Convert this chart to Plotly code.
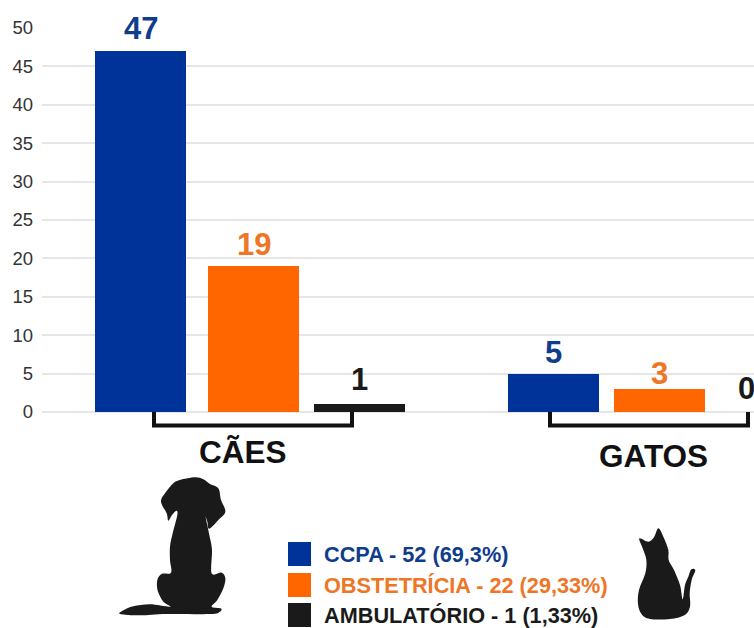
import plotly.graph_objects as go

W, H = 754, 628
FONT = "Liberation Sans"

# Chart values
species = ["CÃES", "GATOS"]
ccpa = [47, 5]
obstetricia = [19, 3]
ambulatorio = [1, 0]
y_ticks = [0, 5, 10, 15, 20, 25, 30, 35, 40, 45, 50]
legend_labels = ["CCPA - 52 (69,3%)", "OBSTETRÍCIA - 22 (29,33%)", "AMBULATÓRIO - 1 (1,33%)"]

BLUE, ORANGE, BLACK = "#003399", "#ff6600", "#1a1a1a"
TEXT_BLUE, TEXT_ORANGE = "#103c8c", "#ee7626"

# Horizontal bar slots, one list per service, in axis units (screen pixels)
x_ccpa = [140.5, 553.5]
x_obst = [253.5, 659.5]
x_amb = [359.5, 746]
BAR_W = 91


def px(x):
    return x / W


def py(y):
    return 1 - y / H


def smooth_path(points):
    """Closed Catmull-Rom outline through pixel points, as an SVG path in paper units."""
    n = len(points)
    d = f"M{px(points[0][0]):.5f},{py(points[0][1]):.5f}"
    for i in range(n):
        p0, p1, p2, p3 = points[i - 1], points[i], points[(i + 1) % n], points[(i + 2) % n]
        c1 = (p1[0] + (p2[0] - p0[0]) / 6, p1[1] + (p2[1] - p0[1]) / 6)
        c2 = (p2[0] - (p3[0] - p1[0]) / 6, p2[1] - (p3[1] - p1[1]) / 6)
        d += (f" C{px(c1[0]):.5f},{py(c1[1]):.5f} {px(c2[0]):.5f},{py(c2[1]):.5f}"
              f" {px(p2[0]):.5f},{py(p2[1]):.5f}")
    return d + " Z"


def bracket(x0, x1, top=412, bottom=425.5):
    return (f"M{px(x0)},{py(top)} L{px(x0)},{py(bottom)} "
            f"L{px(x1)},{py(bottom)} L{px(x1)},{py(top)}")


# Silhouette outlines
dog_raw = [(60, 462), (72, 450), (100, 439), (150, 433), (210, 440), (190, 425), (173, 392),
           (172, 360), (185, 342), (213, 338), (210, 300), (210, 260), (218, 220), (232, 165),
           (229, 152), (216, 165), (205, 182), (200, 160), (183, 125), (195, 100), (220, 70),
           (240, 60), (285, 52), (310, 58), (330, 72), (355, 85), (363, 120), (376, 155),
           (355, 180), (328, 206), (322, 185), (317, 172), (328, 225), (336, 270), (335, 340),
           (365, 338), (376, 355), (370, 385), (352, 420), (335, 440), (362, 445), (360, 455),
           (330, 462), (200, 462), (120, 466)]
dog = [(100 + x / 3, 460 + y / 3) for x, y in dog_raw]

cat_raw = [(1108, 85), (1135, 95), (1152, 82), (1165, 55), (1180, 80), (1195, 120), (1196, 150),
           (1212, 180), (1230, 225), (1238, 268), (1245, 225), (1255, 200), (1264, 178),
           (1276, 181), (1265, 210), (1259, 250), (1260, 290), (1243, 316), (1200, 327),
           (1140, 327), (1115, 313), (1104, 282), (1107, 240), (1126, 190), (1129, 150),
           (1118, 115)]
cat = [(270 + x / 3, 510 + y / 3) for x, y in cat_raw]

fig = go.Figure()
for name, xs, ys, color in [("CCPA", x_ccpa, ccpa, BLUE),
                            ("OBSTETRÍCIA", x_obst, obstetricia, ORANGE),
                            ("AMBULATÓRIO", x_amb, ambulatorio, BLACK)]:
    fig.add_bar(name=name, x=xs, y=ys, width=BAR_W, marker=dict(color=color, line_width=0),
                showlegend=False, hoverinfo="y")

annotations = []

# Value labels above the bars
for xs, ys, color, shifts in [(x_ccpa, ccpa, TEXT_BLUE, [4, 3]),
                              (x_obst, obstetricia, TEXT_ORANGE, [3, -3]),
                              (x_amb, ambulatorio, BLACK, [6, 5])]:
    for x, y, shift in zip(xs, ys, shifts):
        annotations.append(dict(x=x, y=y, xref="x", yref="y", text=f"<b>{y}</b>", showarrow=False,
                                yanchor="bottom", xanchor="center", yshift=shift, borderpad=0,
                                font=dict(family=FONT, size=31, color=color)))

# Group names under the brackets
for label, cx, cy in zip(species, [243, 653.5], [452, 456]):
    annotations.append(dict(x=px(cx), y=py(cy), xref="paper", yref="paper", text=f"<b>{label}</b>",
                            showarrow=False, xanchor="center", yanchor="middle",
                            font=dict(family=FONT, size=31.5, color="#111111")))

# Hand-built legend: colour swatch and matching coloured caption
shapes = []
legend_rows = zip(legend_labels, [BLUE, ORANGE, BLACK], [TEXT_BLUE, TEXT_ORANGE, BLACK], [554, 585, 615])
for label, swatch, text_color, cy in legend_rows:
    shapes.append(dict(type="rect", xref="paper", yref="paper", x0=px(288), x1=px(311),
                       y0=py(cy - 12), y1=py(cy + 12), fillcolor=swatch, line_width=0))
    annotations.append(dict(x=px(322), y=py(cy + 0.5), xref="paper", yref="paper", xanchor="left",
                            yanchor="middle", text=f"<b>{label}</b>", showarrow=False,
                            font=dict(family=FONT, size=21.7, color=text_color)))

for x0, x1 in [(154, 352), (550, 748)]:
    shapes.append(dict(type="path", xref="paper", yref="paper", path=bracket(x0, x1),
                       line=dict(color="#111111", width=4)))

for outline in (dog, cat):
    shapes.append(dict(type="path", xref="paper", yref="paper", path=smooth_path(outline),
                       fillcolor=BLACK, line_width=0))

fig.update_layout(
    width=W, height=H, margin=dict(l=0, r=0, t=0, b=0), paper_bgcolor="white", plot_bgcolor="white",
    barmode="overlay", bargap=0, showlegend=False,
    xaxis=dict(domain=[42 / W, 1], range=[42, 754], visible=False, automargin=False),
    yaxis=dict(domain=[1 - 412 / H, 1 - 28 / H], range=[0, 50], tickmode="array", tickvals=y_ticks,
               automargin=False, showgrid=True, gridcolor="#e6e6e6", gridwidth=2, zeroline=True,
               zerolinecolor="#e6e6e6", zerolinewidth=2, showline=False, ticks="", ticklabelstandoff=8,
               tickfont=dict(family=FONT, size=18.5, color="#333333")),
    annotations=annotations, shapes=shapes,
)

fig.write_html("out.html", config=dict(displayModeBar=False))
